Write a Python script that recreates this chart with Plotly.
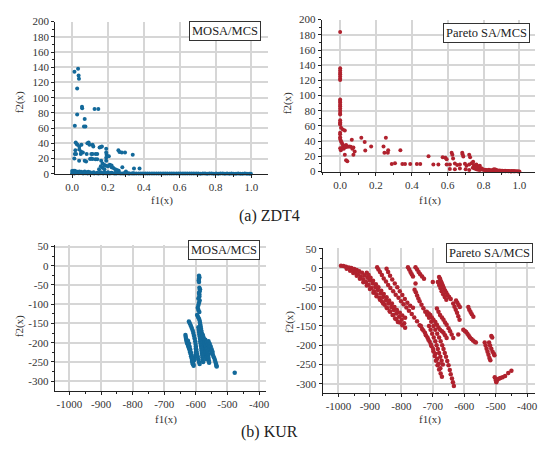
import plotly.graph_objects as go

W, H = 539, 457

# ---------------- DATA ----------------
# (a) ZDT4 - MOSA/MCS
zdt_mosa_x = [0.013,0.033,0.036,0.038,0.028,0.055,0.056,0.028,0.015,0.070,0.066,0.074,0.125,0.146,
              0.020,0.025,0.030,0.040,0.052,0.085,0.092,0.097,0.114,0.118,0.153,0.160,0.166,0.190,0.190,0.192,0.018,0.040,0.050,0.060,
              0.015,0.022,0.048,0.081,0.107,0.114,0.131,0.140,
              0.012,0.039,0.070,0.078,0.100,0.107,0.114,0.130,0.140,0.162,0.190,0.190,0.205,0.258,0.264,0.277,0.295,0.338,
              0.170,0.180,0.190,0.200,0.220,0.230,0.280,0.240,0.345,0.376,0.170,0.180,0.150,0.160,0.210,0.220,0.250,0.260,0.300,
              0.000,0.005,0.010,0.015,0.020,0.030,0.040,0.050,0.060,0.070,0.080,0.090,0.100,0.120,0.140,0.160,0.180,0.200,0.220,0.240,
              0.000,0.012,0.025,0.037,0.048,0.061,0.073,0.086,0.098,0.111,0.123,0.135,0.148,0.160,0.173,0.185,0.197,0.210,0.222,0.235,
              0.247,0.259,0.272,0.284,0.297,0.309,0.321,0.334,0.346,0.358,0.371,0.383,0.395,0.408,0.420,0.432,0.445,0.457,0.470,0.482,
              0.494,0.507,0.519,0.531,0.544,0.556,0.568,0.581,0.593,0.605,0.618,0.630,0.642,0.655,0.667,0.679,0.692,0.704,0.716,0.729,
              0.741,0.753,0.766,0.778,0.790,0.803,0.815,0.827,0.840,0.852,0.864,0.877,0.889,0.901,0.914,0.926,0.938,0.951,0.963,0.975,
              0.988,0.997,0.006,0.019,0.043,0.067,0.092,0.117,0.142,0.166,0.191,0.216,0.241,0.265,0.290,0.315,0.340]
zdt_mosa_y = [134,138,129,125,112,88,86,78,63,72,62,62,85,85,
              41,39,38,36,38,40,41,38,38,36,34.5,35.3,36,33,28,25,31,32,29,28,
              26,26,26,26,26,26,26,26,
              20,17,17,16,19.5,20,19.5,19,19,17,21,17,23,31,28.5,28,28,25,
              13.5,11.5,10.6,9.8,8.5,7.7,8.5,6,7,7,8,6,6,10,12,11,5,4,3,
              3.5,4,3,4,3,2.5,3,2.5,2,3,2,2.5,2,2,1.5,2,1.5,2,1.5,1,
              0.8,0.5,1.0,0.6,0.9,0.4,0.7,0.5,0.8,0.6,0.4,0.7,0.5,0.6,0.3,0.8,0.5,0.4,0.6,0.5,
              0.4,0.6,0.3,0.5,0.4,0.6,0.3,0.4,0.5,0.3,0.4,0.5,0.3,0.4,0.2,0.5,0.3,0.4,0.2,0.3,
              0.4,0.2,0.3,0.4,0.2,0.3,0.2,0.4,0.3,0.2,0.3,0.2,0.3,0.2,0.4,0.2,0.3,0.2,0.1,0.3,
              0.2,0.1,0.3,0.2,0.1,0.2,0.1,0.3,0.2,0.1,0.2,0.1,0.2,0.1,0.1,0.2,0.1,0.1,0.2,0.1,
              0.1,0.0,1.5,1.2,1.0,1.3,0.9,1.1,0.8,1.0,0.7,0.9,0.6,0.8,0.7,0.5,0.6]

# (a) ZDT4 - Pareto SA/MCS
zdt_sa_x = [0.0,0.0,0.0,0.0,0.0,0.0,0.0,0.0,
            0.0,0.0,0.0,0.0,0.0,0.0,0.0,0.0,0.0,0.0,0.0,0.0,0.0,
            0.005,0.015,0.026,0.0,0.0,0.0,
            0.0,0.004,0.008,0.013,0.018,0.026,0.033,0.041,0.050,0.059,0.068,0.074,0.0,0.004,0.010,0.020,0.030,0.065,0.033,0.040,0.026,0.081,0.074,
            0.118,0.137,0.140,0.173,0.242,0.247,0.266,0.255,0.268,0.288,0.306,0.336,0.347,0.362,0.391,0.428,0.447,
            0.493,0.520,0.548,0.572,0.587,0.594,0.622,0.626,0.630,0.594,0.612,0.681,0.683,0.687,0.720,0.725,0.640,0.653,0.668,0.696,0.705,0.720,0.733,0.742,0.746,0.760,0.770,0.779,0.788,0.797,
            0.612,0.640,0.668,0.700,0.720,0.740,0.750,0.760,0.770,0.780,0.755,0.765,0.775,0.785,0.792,
            0.800,0.808,0.815,0.822,0.830,0.838,0.845,0.852,0.860,0.868,0.875,0.882,0.890,0.898,0.905,0.912,0.920,0.928,0.935,0.942,
            0.950,0.958,0.965,0.972,0.980,0.988,0.995,1.000,0.810,0.826,0.842,0.858,0.866,0.874,0.890,0.906,0.922,0.938,0.954,0.970]
zdt_sa_y = [183.8,136,133,130,128,125,122,120.5,
            95,93,91,88,86,83,80,77,75,67.5,65,63,62,
            57.7,55.5,54,51,49,45,
            42.7,40.6,38.5,36,34,33,35,32.5,33,32.5,30,31.6,30.8,28,31,30,32,42,15,13.7,22,26.5,22,
            44.4,39,27.8,33,33,24.8,24.8,44.4,28,10,11,28,10,10,10,10,10,
            20,9.4,9.4,18.8,18,16.3,24.7,22.2,17,9.4,9.4,24.7,22.6,19.7,22,18.8,10.6,8.5,9.4,10.3,7.7,9.4,11,12.8,8.5,9.4,6.8,7.7,4.3,2.6,
            3.5,3,4,3,2,5,4,3,2.5,2,6,5,4,3.5,3,
            2.5,2.2,2.0,1.8,2.4,1.6,1.5,2.0,1.4,1.2,1.6,1.0,1.3,0.9,1.1,0.8,0.9,0.7,0.6,0.8,
            0.5,0.6,0.4,0.5,0.3,0.4,0.2,0.1,1.2,1.0,0.9,3.0,2.8,1.5,0.6,0.4,0.5,0.3,0.2,0.3]

# (b) KUR - MOSA/MCS
kur_mosa_x = [-590,-589,-590,-591,-590,-589,-587,-588,-590,-589,-589,-592,-588,-590,-592,-594,-592,-589,
              -633,-632,-631,-630,-628,-626,-624,-622,-620,-618,-616,-615,-613,-612,-611,-609,-607,
              -622,-619,-616,-613,-610,-608,-606,-604,-602,-601,-600,-599,-600,-601,-603,-605,
              -625,-622,-620,-618,-616,-614,-612,-610,-608,
              -596,-593,-590,-588,-587,-586,-585,-584,-583,-582,-581,-580,-579,-578,-577,-576,-575,-574,-573,-572,-571,-570,-568,-566,
              -592,-591,-590,-589,-588,-587,-586,-585,-584,-583,-582,-581,-580,-579,-578,-577,
              -578,-576,-574,-572,-570,-568,-566,-564,-562,-561,-560,-559,-558,
              -570,-566,-562,-558,-555,-552,-549,-546,-543,-540,-538,-536,-535,-534,
              -560,-556,-553,-550,-547,
              -600,-598,-596,-594,-592,-590,-588,
              -477]
kur_mosa_y = [-26,-30,-34,-38,-42,-57,-61,-66,-71,-75,-80,-85,-90,-96,-102,-109,-115,-120,
              -180,-185,-190,-195,-200,-204,-209,-214,-219,-225,-230,-235,-241,-247,-252,-256,-260,
              -145,-150,-156,-162,-168,-175,-182,-189,-196,-203,-210,-217,-224,-231,-238,-245,
              -195,-202,-210,-217,-225,-233,-240,-248,-255,
              -128,-133,-138,-143,-148,-153,-158,-163,-168,-173,-178,-183,-188,-193,-198,-203,-208,-213,-218,-223,-228,-233,-238,-243,
              -160,-166,-172,-178,-184,-190,-196,-202,-208,-214,-220,-226,-232,-238,-244,-250,
              -180,-186,-192,-198,-204,-210,-216,-222,-228,-234,-240,-246,-252,
              -192,-198,-204,-210,-216,-222,-228,-232,-238,-244,-250,-255,-260,-262,
              -196,-203,-210,-217,-224,
              -215,-222,-229,-236,-243,-250,-255,
              -278]

# (b) KUR - Pareto SA/MCS
kur_sa_x = [-992,-984,-976,-967,-959,-950,-942,-934,-925,-917,-908,-900,-891,-883,-875,-866,-858,-849,-841,-832,-824,-816,-807,-799,-791,
            -974,-963,-953,-942,-932,-921,-910,-900,-889,-879,-868,-858,-847,-837,-826,-816,-805,-797,-788,
            -910,-904,-898,-890,-881,-873,-864,-856,-847,-839,-830,-822,-814,-805,-797,-788,
            -877,-873,-868,-862,-856,-849,-842,-835,-826,-818,-809,-801,-793,-784,-776,-767,-759,-750,-742,-734,-725,-717,-710,-704,-698,-694,-690,-685,-680,-675,-671,
            -847,-842,-836,-829,-821,-813,-805,-797,-789,-781,-772,-763,
            -779,-775,-771,-767,-763,
            -755,-750,-745,-740,-734,-728,
            -755,
            -758,-754,-750,-746,-742,-736,-730,-724,-718,-712,-705,-698,-692,-686,-680,-675,-670,-666,-662,-658,-654,-650,-646,-643,-639,-636,-633,
            -719,-713,-708,-703,-698,-692,-687,-682,-677,-671,-666,-661,-656,
            -687,-682,-677,-671,-666,-661,-656,-650,-645,-640,-635,
            -712,-707,-702,-697,-692,-688,-684,-680,-676,-672,-668,
            -680,-677,-674,-671,-668,-665,-661,-657,-653,-648,-643,
            -684,-680,-676,-672,-667,-662,-657,
            -700,
            -635,-631,-627,-623,-619,-615,
            -626,-622,-618,-614,
            -587,-584,-580,-576,-571,
            -619,-603,-598,-594,-590,-586,-582,-577,-572,-567,-563,
            -535,-532,-529,-526,-523,-520,-517,
            -514,-511,
            -521,-518,-514,-510,-506,-504,
            -503,-500,-498,-495,-490,-485,-478,-470,-460,-450,
            -955,-946,-938,-929,-921,-912,-904,-895,-887,-879,-870,-862,-853,-845,-836,-828,-820,-811,
            -738,-730,-722,-714,-706,-699,-692,-686,-681,-676]
kur_sa_y = [6,5,3.5,1.5,0,-2.5,-5,-8.5,-12.5,-18.5,-25,-32,-40,-49,-57,-66,-75,-84,-92,-101,-109,-118,-126,-134,-143,
            -2,-7,-13,-20,-28,-37,-45,-54,-64,-73,-82,-92,-102,-112,-122,-133,-141,-148,-155,
            -12,-18,-25,-33,-42,-50,-59,-67,-76,-84,-92,-101,-109,-116,-123,-129,
            2,-4,-10,-18,-27,-35,-44,-52,-60,-69,-77,-86,-94,-102,-111,-119,-128,-138,-148,-158,-168,-180,-191,-203,-216,-228,-240,-252,-263,-273,-282,
            -2,-10,-20,-30,-40,-50,-60,-70,-80,-90,-98,-103,
            2,-4,-10,-16,-22,
            2,-4,-10,-16,-22,-28,
            -40,
            -56,-63,-71,-79,-86,-95,-104,-113,-121,-129,-139,-150,-160,-170,-180,-190,-200,-210,-220,-230,-241,-252,-264,-275,-286,-296,-306,
            -113,-118,-122,-128,-134,-140,-147,-154,-160,-164,-168,-174,-181,
            -105,-113,-122,-128,-134,-141,-147,-156,-164,-172,-181,
            -150,-160,-170,-180,-190,-200,-210,-220,-230,-240,-250,
            -23,-28,-34,-40,-46,-52,-58,-64,-70,-75,-80,
            -36,-44,-52,-60,-68,-75,-82,
            -36,
            -92,-100,-108,-116,-125,-134,
            -84,-90,-96,-101,
            -101,-108,-114,-120,-126,
            -172,-160,-163,-166,-170,-175,-180,-184,-188,-191,-193,
            -193,-201,-209,-217,-225,-233,-239,
            -176,-180,
            -193,-201,-209,-217,-222,-226,
            -283,-290,-296,-290,-287,-285,-283,-280,-272,-266,
            -6,-10,-16,-22,-29,-36,-44,-52,-60,-68,-77,-86,-95,-104,-113,-122,-131,-140,
            -150,-162,-174,-186,-198,-210,-222,-235,-248,-260]

zdt_xticks = [0.0, 0.2, 0.4, 0.6, 0.8, 1.0]
zdt_xticktext = ["0.0", "0.2", "0.4", "0.6", "0.8", "1.0"]
zdt_yticks = [0, 20, 40, 60, 80, 100, 120, 140, 160, 180, 200]
kur_xticks = [-1000, -900, -800, -700, -600, -500, -400]
kur_xticktext = ["-1000", "-900", "-800", "-700", "-600", "-500", "-400"]
kur_yticks = [50, 0, -50, -100, -150, -200, -250, -300]
kur_yticktext = ["50", "0", "-50", "-100", "-150", "-200", "-250", "-300"]

legend_names = ["MOSA/MCS", "Pareto SA/MCS", "MOSA/MCS", "Pareto SA/MCS"]
captions = ["(a) ZDT4", "(b) KUR"]

# ---------------- FIGURE ----------------
FONT = "Times New Roman, Liberation Serif, serif"
BLUE = "#13699a"
RED = "#b0222e"
GRID = "#d6d6d6"

def px(x): return x / W
def py(y): return 1 - y / H

fig = go.Figure()

panels = [
    dict(l=55.7, r=269.5, t=16, b=172.3, xr=[-0.094, 1.0897], yr=[0, 200]),
    dict(l=324, r=539, t=14, b=170, xr=[-0.1035, 1.087], yr=[0, 200]),
    dict(l=55, r=268, t=245.7, b=395, xr=[-1047, -378], yr=[-324.5, 53.3]),
    dict(l=325, r=539, t=248.3, b=397.7, xr=[-1050.5, -375], yr=[-324.5, 52.5]),
]
series = [(zdt_mosa_x, zdt_mosa_y, BLUE), (zdt_sa_x, zdt_sa_y, RED),
          (kur_mosa_x, kur_mosa_y, BLUE), (kur_sa_x, kur_sa_y, RED)]

for i, (p, (sx, sy, col)) in enumerate(zip(panels, series)):
    n = "" if i == 0 else str(i + 1)
    zdt = i < 2
    fig.add_trace(go.Scatter(x=sx, y=sy, mode="markers", xaxis="x" + n, yaxis="y" + n,
                             marker=dict(color=col, size=4 if zdt else 4.5), cliponaxis=False, showlegend=False,
                             name=legend_names[i]))
    xa = dict(domain=[px(p["l"]), px(p["r"])], range=p["xr"], anchor="y" + n,
              tickvals=zdt_xticks if zdt else kur_xticks,
              ticktext=zdt_xticktext if zdt else kur_xticktext,
              showline=True, linecolor="#222", linewidth=1, ticks="outside", ticklen=3,
              tickcolor="#222", showgrid=True, gridcolor=GRID, gridwidth=1.5, zeroline=False,
              tickfont=dict(family=FONT, size=11, color="#333"),
              minor=dict(dtick=0.1 if zdt else 50, ticks="outside", ticklen=2, tickcolor="#222", showgrid=False))
    ya = dict(domain=[py(p["b"]), py(p["t"])], range=p["yr"], anchor="x" + n,
              tickvals=zdt_yticks if zdt else kur_yticks,
              ticktext=[str(v) for v in zdt_yticks] if zdt else kur_yticktext,
              showline=True, linecolor="#222", linewidth=1, ticks="outside", ticklen=3,
              tickcolor="#222", showgrid=True, gridcolor=GRID, gridwidth=1.5, zeroline=False,
              tickfont=dict(family=FONT, size=11, color="#333"),
              minor=dict(dtick=10 if zdt else 25, ticks="outside", ticklen=2, tickcolor="#222", showgrid=False))
    fig.update_layout(**{"xaxis" + n: xa, "yaxis" + n: ya})

ann = []
boxes = [(263, 15), (533.5, 17.5), (262, 240.7), (537, 243)]
for (bx, by), name in zip(boxes, legend_names):
    ann.append(dict(text=name, xref="paper", yref="paper", x=px(bx), y=py(by), xanchor="right", yanchor="top",
                    showarrow=False, font=dict(family=FONT, size=12.5, color="#222"),
                    bordercolor="#333", borderwidth=1, borderpad=2, bgcolor="white"))
for (x, y) in [(163, 200), (433.3, 199.3), (167.5, 425), (433, 425)]:
    ann.append(dict(text="f1(x)", xref="paper", yref="paper", x=px(x), y=py(y), xanchor="center", yanchor="middle",
                    showarrow=False, font=dict(family=FONT, size=11, color="#333")))
for (x, y) in [(20, 99), (290, 100), (20, 329), (291.7, 325)]:
    ann.append(dict(text="f2(x)", xref="paper", yref="paper", x=px(x), y=py(y), xanchor="center", yanchor="middle",
                    textangle=-90, showarrow=False, font=dict(family=FONT, size=11, color="#333")))
for (x, y), cap in zip([(272, 216), (272, 438)], captions):
    ann.append(dict(text=cap, xref="paper", yref="paper", x=px(x), y=py(y), xanchor="center", yanchor="middle",
                    showarrow=False, font=dict(family=FONT, size=16, color="#222")))

fig.update_layout(width=W, height=H, autosize=False, margin=dict(l=0, r=0, t=0, b=0),
                  paper_bgcolor="white", plot_bgcolor="white", annotations=ann)

fig.write_html("out.html", config={"displayModeBar": False},
               post_script="document.body.style.margin='0px';document.body.style.overflow='hidden';")
